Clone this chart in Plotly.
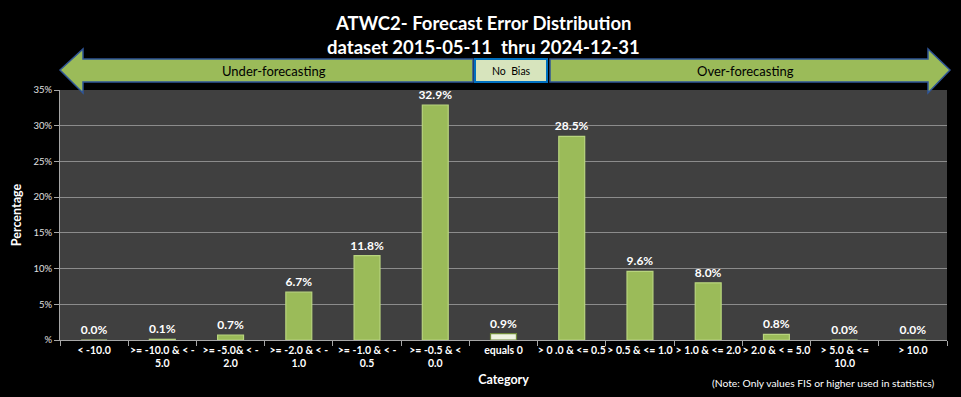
import plotly.graph_objects as go

categories = ["< -10.0", ">= -10.0 & < -<br>5.0", ">= -5.0& < -<br>2.0", ">= -2.0 & < -<br>1.0",
              ">= -1.0 & < -<br>0.5", ">= -0.5 & <<br>0.0", "equals 0", "> 0 .0 & <= 0.5",
              "> 0.5 & <= 1.0", "> 1.0 & <= 2.0", "> 2.0 & < = 5.0", "> 5.0 & <=<br>10.0", "> 10.0"]
values = [0.0, 0.1, 0.7, 6.7, 11.8, 32.9, 0.9, 28.5, 9.6, 8.0, 0.8, 0.0, 0.0]
y_ticks = [0, 5, 10, 15, 20, 25, 30, 35]
y_tick_labels = ["%", "5%", "10%", "15%", "20%", "25%", "30%", "35%"]

title1 = "ATWC2- Forecast Error Distribution"
title2 = "dataset 2015-05-11  thru 2024-12-31"

FONT = "Lato"
W, H = 961, 397
L, R, T, B = 60, 14, 90, 57
PW, PH = W - L - R, H - T - B


def px(x):
    return (x - L) / PW


def py(y):
    return (H - B - y) / PH


colors = []
lines = []
for c in categories:
    if c == "equals 0":
        colors.append("#eef3e0")
        lines.append("#6f8a3a")
    else:
        colors.append("#9bbb59")
        lines.append("#b8d47e")

fig = go.Figure()
fig.add_trace(go.Bar(
    x=categories, y=values,
    marker=dict(color=colors, line=dict(color=lines, width=1.2)),
    text=[f"{v:.1f}%" for v in values],
    textposition="outside",
    constraintext="none",
    textfont=dict(family=FONT, size=12, color="white", weight="bold"),
    cliponaxis=False,
    width=0.38,
    hoverinfo="skip",
))

arrow_fill = "#9bbb59"
arrow_line = "#2f5597"

left_path = (f"M {px(60)},{py(70)} L {px(83)},{py(49)} L {px(83)},{py(59)} "
             f"L {px(473)},{py(59)} L {px(473)},{py(82)} L {px(83)},{py(82)} "
             f"L {px(83)},{py(93)} Z")
right_path = (f"M {px(950)},{py(70)} L {px(928)},{py(49)} L {px(928)},{py(59)} "
              f"L {px(550)},{py(59)} L {px(550)},{py(82)} L {px(928)},{py(82)} "
              f"L {px(928)},{py(93)} Z")
shapes = [
    dict(type="path", xref="paper", yref="paper", path=left_path,
         fillcolor=arrow_fill, line=dict(color=arrow_line, width=1.5), layer="above"),
    dict(type="path", xref="paper", yref="paper", path=right_path,
         fillcolor=arrow_fill, line=dict(color=arrow_line, width=1.5), layer="above"),
    dict(type="rect", xref="paper", yref="paper", x0=px(475), x1=px(547), y0=py(82), y1=py(59),
         fillcolor="#d7e4bd", line=dict(color="#0070c0", width=2), layer="above"),
]

annotations = [
    dict(text=title1, x=px(483), xref="paper", xanchor="center", y=py(23), yref="paper", yanchor="middle",
         showarrow=False, font=dict(family=FONT, size=18.5, color="white", weight="bold")),
    dict(text=title2, x=px(483), xref="paper", xanchor="center", y=py(47), yref="paper", yanchor="middle",
         showarrow=False, font=dict(family=FONT, size=18.5, color="white", weight="bold")),
    dict(text="Under-forecasting", x=px(274), xref="paper", xanchor="center", y=py(71), yref="paper",
         yanchor="middle", showarrow=False, font=dict(family=FONT, size=13, color="black")),
    dict(text="No  Bias", x=px(511), xref="paper", xanchor="center", y=py(71), yref="paper",
         yanchor="middle", showarrow=False, font=dict(family=FONT, size=10.5, color="black")),
    dict(text="Over-forecasting", x=px(745), xref="paper", xanchor="center", y=py(71), yref="paper",
         yanchor="middle", showarrow=False, font=dict(family=FONT, size=13, color="black")),
    dict(text="(Note: Only values FIS or higher used in statistics)", x=px(937), xref="paper",
         xanchor="right", y=py(383), yref="paper", yanchor="middle", showarrow=False,
         font=dict(family=FONT, size=10.3, color="white")),
]

fig.update_layout(
    width=W, height=H,
    margin=dict(l=L, r=R, t=T, b=B, autoexpand=False),
    paper_bgcolor="black", plot_bgcolor="#404040",
    shapes=shapes, annotations=annotations,
    showlegend=False,
    bargap=0.62,
    font=dict(family=FONT, color="white"),
)
fig.update_xaxes(
    type="category", tickson="boundaries", ticks="outside", ticklen=5, tickcolor="#a6a6a6",
    showline=True, linecolor="#a6a6a6", linewidth=1, showgrid=False, automargin=False,
    tickfont=dict(family=FONT, size=10.5, color="white", weight="bold"),
    title=dict(text="Category", font=dict(family=FONT, size=12.5, color="white", weight="bold"), standoff=6),
    tickangle=0,
)
fig.update_yaxes(
    range=[0, 35], tickvals=y_ticks, ticktext=y_tick_labels, ticks="outside", ticklen=5,
    tickcolor="#a6a6a6", showline=True, linecolor="#a6a6a6", linewidth=1, automargin=False,
    showgrid=True, gridcolor="#8c8c8c", gridwidth=1, zeroline=False,
    tickfont=dict(family=FONT, size=9.5, color="#e0e0e0"),
    title=dict(text="Percentage", font=dict(family=FONT, size=12.5, color="white", weight="bold"), standoff=9),
)

fig.write_html("out.html", config={"displayModeBar": False},
               post_script="document.body.style.margin='0';document.body.style.background='black';")
